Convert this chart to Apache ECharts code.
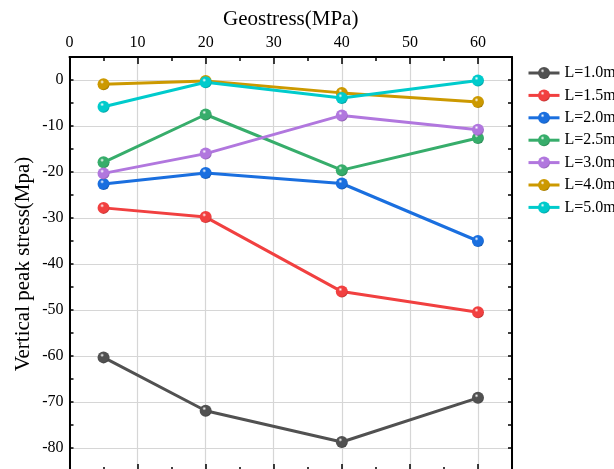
<!DOCTYPE html>
<html>
<head>
<meta charset="utf-8">
<script src="https://cdn.jsdelivr.net/npm/echarts@6/dist/echarts.min.js"></script>
<style>
  html, body { margin: 0; padding: 0; background: #fff; }
  #chart { width: 614px; height: 469px; }
</style>
</head>
<body>
<div id="chart"></div>
<script>
// Geostress levels (MPa) at which the vertical peak stress was recorded
const geostress = [5, 20, 40, 60];

// Vertical peak stress (MPa) for each spacing L
const seriesNames = ['L=1.0m', 'L=1.5m', 'L=2.0m', 'L=2.5m', 'L=3.0m', 'L=4.0m', 'L=5.0m'];
const stressL10 = [-60.3, -71.9, -78.7, -69.1];
const stressL15 = [-27.8, -29.8, -46.0, -50.5];
const stressL20 = [-22.6, -20.2, -22.5, -35.0];
const stressL25 = [-17.9, -7.5, -19.6, -12.6];
const stressL30 = [-20.3, -16.0, -7.7, -10.8];
const stressL40 = [-0.9, -0.2, -2.8, -4.8];
const stressL50 = [-5.8, -0.5, -3.9, -0.1];
const allStress = [stressL10, stressL15, stressL20, stressL25, stressL30, stressL40, stressL50];

const colors = ['#515151', '#F14040', '#1A6FDF', '#37AD6B', '#B177DE', '#CC9900', '#00CBCC'];

const FONT = '"Liberation Serif", "Times New Roman", serif';

function shade(hex, k) {
  const n = parseInt(hex.slice(1), 16);
  const r = Math.round(((n >> 16) & 255) * k);
  const g = Math.round(((n >> 8) & 255) * k);
  const b = Math.round((n & 255) * k);
  return 'rgb(' + r + ',' + g + ',' + b + ')';
}

// glossy ball marker
function ball(c) {
  return {
    type: 'radial', x: 0.38, y: 0.32, r: 0.75,
    colorStops: [
      { offset: 0, color: '#ffffff' },
      { offset: 0.22, color: c },
      { offset: 0.75, color: c },
      { offset: 1, color: shade(c, 0.7) }
    ]
  };
}

const chart = echarts.init(document.getElementById('chart'), null, { renderer: 'canvas' });

const noLine = { show: false, onZero: false };
const blackLine = { show: true, onZero: false, lineStyle: { color: '#000', width: 2 } };
const minorTick = { show: true, inside: true, length: 4, lineStyle: { color: '#000', width: 1.5 } };
const majorTick = { show: true, inside: true, length: 7, lineStyle: { color: '#000', width: 1.5 } };

function xAxisDef(pos, interval, opts) {
  return Object.assign({
    type: 'value', gridIndex: 0, position: pos, min: 0, max: 65, interval: interval,
    axisLine: noLine, axisLabel: { show: false }, splitLine: { show: false },
    axisTick: minorTick
  }, opts || {});
}
function yAxisDef(pos, interval, opts) {
  return Object.assign({
    type: 'value', gridIndex: 0, position: pos, min: -85, max: 5, interval: interval,
    axisLine: noLine, axisLabel: { show: false }, splitLine: { show: false },
    axisTick: minorTick
  }, opts || {});
}

const option = {
  backgroundColor: '#fff',
  animation: false,
  grid: { left: 69.5, top: 57, width: 442.5, height: 414, containLabel: false, outerBoundsMode: 'none' },
  legend: {
    orient: 'vertical', left: 527, top: 65, padding: 0,
    itemWidth: 31, itemHeight: 15, itemGap: 6.4,
    lineStyle: { width: 3 },
    textStyle: { fontFamily: FONT, fontSize: 16, color: '#000' },
    data: seriesNames
  },
  xAxis: [
    {
      type: 'value', position: 'top', min: 0, max: 65, splitNumber: 6,
      name: 'Geostress(MPa)', nameLocation: 'middle', nameGap: 27,
      nameTextStyle: { fontFamily: FONT, fontSize: 21, color: '#000' },
      axisLine: blackLine,
      axisTick: majorTick,
      axisLabel: { fontFamily: FONT, fontSize: 16, color: '#000', margin: 6, showMaxLabel: false,
        formatter: v => (v % 10 === 0 ? String(v) : '') },
      splitLine: { show: true, lineStyle: { color: '#d6d6d6', width: 1.2 } }
    },
    xAxisDef('top', 5),
    xAxisDef('bottom', 10, { axisLine: blackLine, axisTick: majorTick }),
    xAxisDef('bottom', 5)
  ],
  yAxis: [
    {
      type: 'value', position: 'left', min: -85, max: 5, splitNumber: 9,
      name: 'Vertical peak stress(Mpa)', nameLocation: 'middle', nameGap: 36,
      nameMoveOverlap: false,
      nameTextStyle: { fontFamily: FONT, fontSize: 21, color: '#000' },
      axisLine: blackLine,
      axisTick: { show: false },
      axisLabel: { fontFamily: FONT, fontSize: 16, color: '#000', margin: 6,
        showMinLabel: false, showMaxLabel: false,
        formatter: v => (v % 10 === 0 ? String(v) : '') },
      splitLine: { show: true, lineStyle: { color: '#d6d6d6', width: 1.2 } }
    },
    yAxisDef('left', 5),
    yAxisDef('right', 5, { axisLine: blackLine })
  ],
  series: allStress.map((vals, i) => ({
    name: seriesNames[i],
    type: 'line',
    xAxisIndex: 0, yAxisIndex: 0,
    data: geostress.map((g, j) => [g, vals[j]]),
    symbol: 'circle',
    symbolSize: 12,
    showAllSymbol: true,
    lineStyle: { color: colors[i], width: 3 },
    itemStyle: { color: ball(colors[i]), borderWidth: 0 },
    emphasis: { disabled: true },
    z: 3 + i
  }))
};

chart.setOption(option);
</script>
</body>
</html>
